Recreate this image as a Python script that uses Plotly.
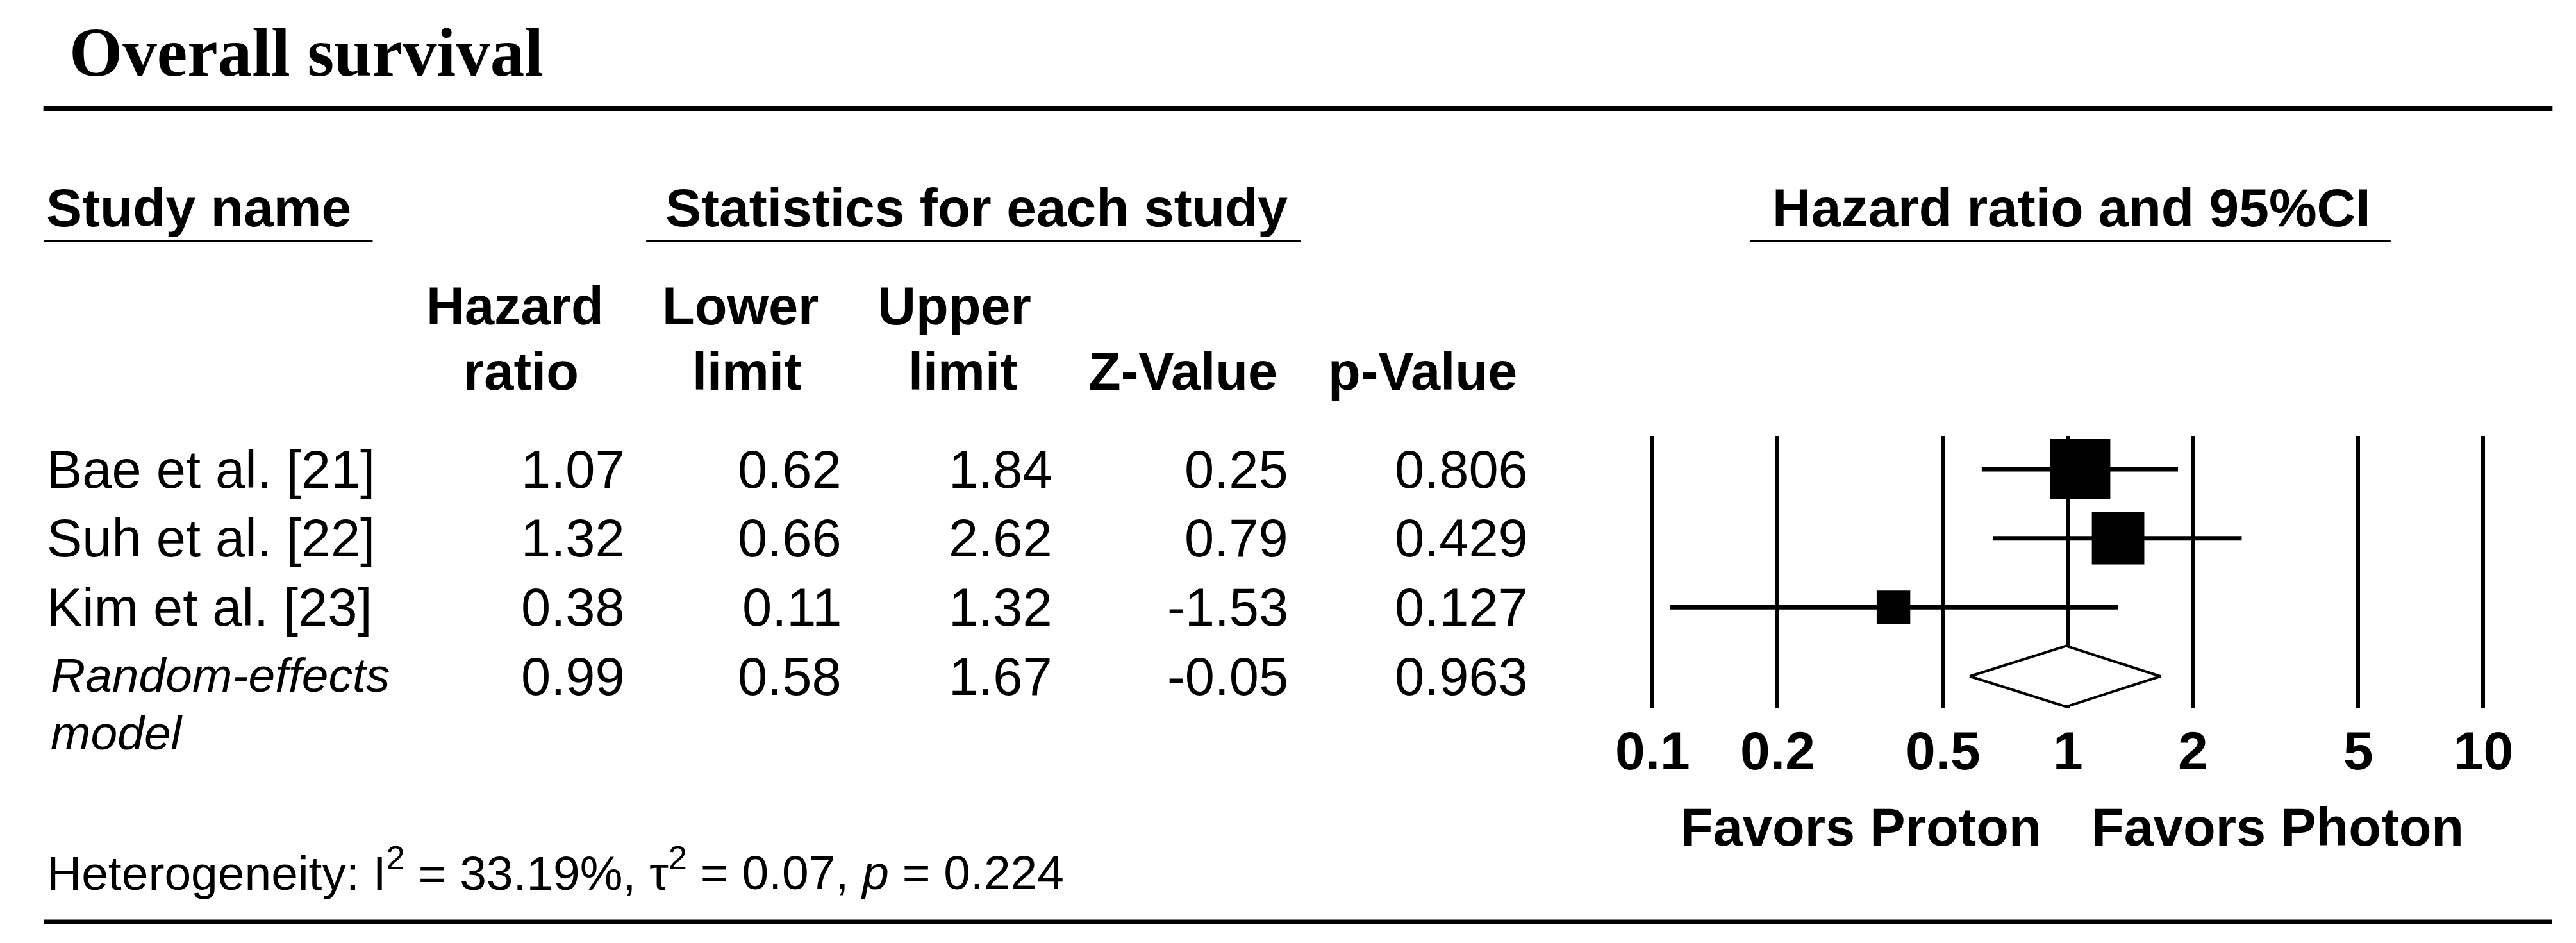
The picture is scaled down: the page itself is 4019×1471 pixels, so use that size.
import math
import plotly.graph_objects as go

# ---------------- data ----------------
studies = ["Bae et al. [21]", "Suh et al. [22]", "Kim et al. [23]"]
hazard_ratio = [1.07, 1.32, 0.38]
lower_limit = [0.62, 0.66, 0.11]
upper_limit = [1.84, 2.62, 1.32]
z_value = [0.25, 0.79, -1.53]
p_value = [0.806, 0.429, 0.127]

pooled_label = ["Random-effects", "model"]
pooled_hr = 0.99
pooled_lower = 0.58
pooled_upper = 1.67
pooled_z = -0.05
pooled_p = 0.963

i2 = 33.19
tau2 = 0.07
p_het = 0.224

tick_values = [0.1, 0.2, 0.5, 1, 2, 5, 10]
tick_labels = ["0.1", "0.2", "0.5", "1", "2", "5", "10"]

# ---------------- canvas ----------------
W, H = 4019, 1471
FS = "Liberation Sans, Arial, sans-serif"
SERIF = "Liberation Serif, Times New Roman, serif"


def PX(x):
    return x / W


def PY(y):
    return 1 - y / H


rows = list(range(1, len(studies) + 1))
pooled_row = len(studies) + 1

# box side proportional to sqrt(random-effects weight)
weights = []
for lo, up in zip(lower_limit, upper_limit):
    se = (math.log(up) - math.log(lo)) / (2 * 1.96)
    weights.append(1.0 / (se * se + tau2))
box_size = [36.0 * math.sqrt(w) for w in weights]

fig = go.Figure()

# CI whiskers (error bars around each estimate) + study boxes
fig.add_trace(go.Scatter(
    x=hazard_ratio, y=rows, mode="markers",
    marker=dict(symbol="square", size=box_size, color="black",
                opacity=1, line=dict(width=0)),
    error_x=dict(type="data", symmetric=False,
                 array=[u - h for u, h in zip(upper_limit, hazard_ratio)],
                 arrayminus=[h - l for h, l in zip(hazard_ratio, lower_limit)],
                 color="black", thickness=7, width=0),
    showlegend=False))

# pooled diamond
hh = 0.44
fig.add_trace(go.Scatter(
    x=[pooled_lower, pooled_hr, pooled_upper, pooled_hr, pooled_lower],
    y=[pooled_row, pooled_row - hh, pooled_row, pooled_row + hh, pooled_row],
    mode="lines", fill="toself", fillcolor="white",
    line=dict(color="black", width=4), showlegend=False))

# axis geometry (pixels)
x_left_px, x_right_px = 2570, 3879   # positions of 0.1 and 10
dec_px = (x_right_px - x_left_px) / 2.0
pad = 0.05
dom_x0 = (x_left_px - pad * dec_px) / W
dom_x1 = (x_right_px + pad * dec_px) / W

row_px0 = 724.0
row_step = 107.67
top_px, bot_px = 672.0, 1097.0
y_top = 1 - (row_px0 - top_px) / row_step
y_bot = 1 + (bot_px - row_px0) / row_step

fig.update_layout(
    width=W, height=H,
    margin=dict(l=0, r=0, t=0, b=0),
    paper_bgcolor="white", plot_bgcolor="white",
    showlegend=False,
    xaxis=dict(type="log", domain=[dom_x0, dom_x1], range=[-1 - pad, 1 + pad],
               tickvals=tick_values, ticktext=tick_labels,
               showgrid=True, gridcolor="black", gridwidth=6,
               showline=False, zeroline=False, ticks="",
               ticklabelstandoff=10,
               tickfont=dict(family=FS, size=84, color="black", weight="bold")),
    yaxis=dict(domain=[1 - bot_px / H, 1 - top_px / H], range=[y_bot, y_top],
               showgrid=False, zeroline=False, showticklabels=False,
               showline=False, ticks=""),
)

ann = []


def text(x, y, s, size=83, bold=False, italic=False, xanchor="left",
         family=FS, yref="paper"):
    ann.append(dict(x=x, y=y, xref="paper", yref=yref, text=s, showarrow=False,
                    xanchor=xanchor, yanchor="middle", borderpad=0,
                    font=dict(family=family, size=size, color="black",
                              weight="bold" if bold else "normal",
                              style="italic" if italic else "normal")))


# title
text(PX(74), PY(74), "Overall survival", size=107, bold=True, family=SERIF)

# section headers
text(PX(37), PY(316), "Study name", size=84, bold=True)
text(PX(1504), PY(316), "Statistics for each study", size=84, bold=True, xanchor="center")
text(PX(3230), PY(316), "Hazard ratio and 95%CI", size=84, bold=True, xanchor="center")

# column headers
l1, l2 = 470, 571
text(PX(777), PY(l1), "Hazard", bold=True, xanchor="center")
text(PX(787), PY(l2), "ratio", bold=True, xanchor="center")
text(PX(1132), PY(l1), "Lower", bold=True, xanchor="center")
text(PX(1143), PY(l2), "limit", bold=True, xanchor="center")
text(PX(1470), PY(l1), "Upper", bold=True, xanchor="center")
text(PX(1483), PY(l2), "limit", bold=True, xanchor="center")
text(PX(1830), PY(l2), "Z-Value", bold=True, xanchor="center")
text(PX(2207), PY(l2), "p-Value", bold=True, xanchor="center")

# table rows
col_right = [951, 1293, 1625, 1997, 2375]
for r, name, a, b, c, d, e in zip(rows, studies, hazard_ratio, lower_limit,
                                  upper_limit, z_value, p_value):
    text(PX(38), r, name, yref="y")
    vals = [f"{a:.2f}", f"{b:.2f}", f"{c:.2f}", f"{d:.2f}", f"{e:.3f}"]
    for xr, v in zip(col_right, vals):
        text(PX(xr), r, v, yref="y", xanchor="right")

# pooled row
text(PX(44), pooled_row - 0.02, pooled_label[0], size=75, italic=True, yref="y")
text(PX(44), PY(1135), pooled_label[1], size=75, italic=True)
pvals = [f"{pooled_hr:.2f}", f"{pooled_lower:.2f}", f"{pooled_upper:.2f}",
         f"{pooled_z:.2f}", f"{pooled_p:.3f}"]
for xr, v in zip(col_right, pvals):
    text(PX(xr), pooled_row, v, yref="y", xanchor="right")

# favors labels
text(PX(2898), PY(1282), "Favors Proton", size=83, bold=True, xanchor="center")
text(PX(3555), PY(1282), "Favors Photon", size=83, bold=True, xanchor="center")

# heterogeneity
het = (f"Heterogeneity: I<sup>2</sup> = {i2:.2f}%, \u03c4<sup>2</sup> = {tau2:.2f}, "
       f"<i>p</i> = {p_het:.3f}")
text(PX(38), PY(1348), het, size=75)

fig.update_layout(annotations=ann)

# rules
shapes = [
    dict(x0=PX(34), x1=PX(3988), y0=PY(161), y1=PY(161), width=8),
    dict(x0=PX(35), x1=PX(3987), y0=PY(1430), y1=PY(1430), width=7),
    dict(x0=PX(35), x1=PX(553), y0=PY(368), y1=PY(368), width=4),
    dict(x0=PX(984), x1=PX(2016), y0=PY(368), y1=PY(368), width=4),
    dict(x0=PX(2723), x1=PX(3733), y0=PY(368), y1=PY(368), width=4),
]
fig.update_layout(shapes=[dict(type="line", xref="paper", yref="paper",
                               x0=s["x0"], x1=s["x1"], y0=s["y0"], y1=s["y1"],
                               line=dict(color="black", width=s["width"]))
                          for s in shapes])

fig.write_html("out.html")
